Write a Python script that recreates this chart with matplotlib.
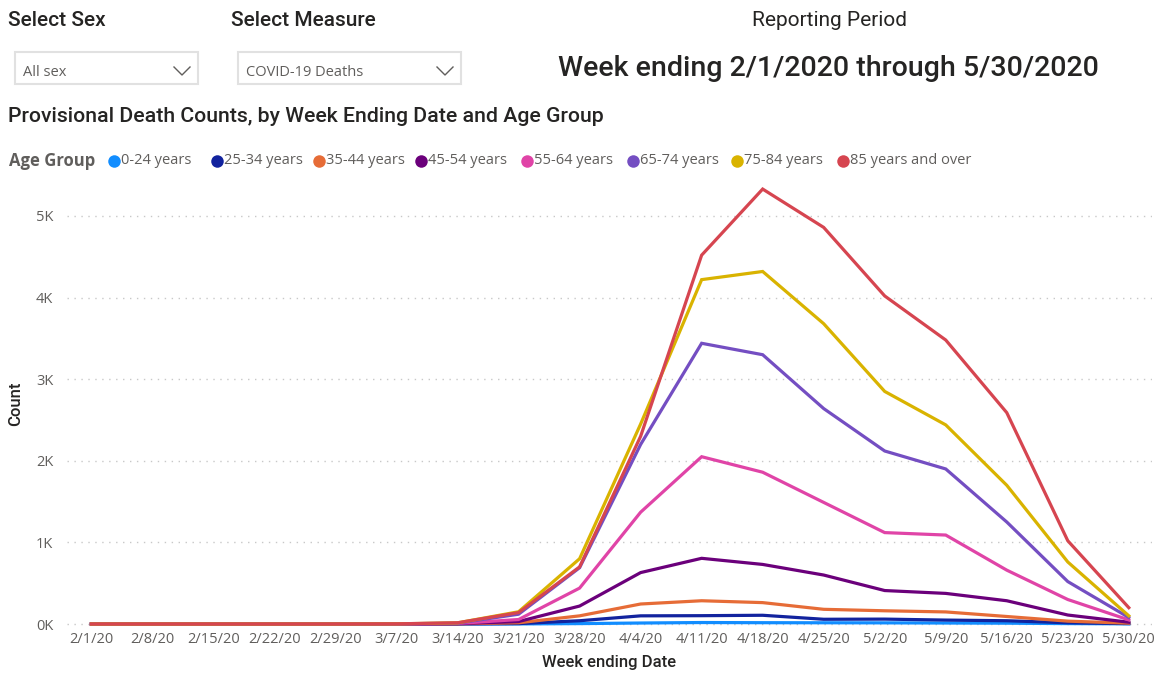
import matplotlib
matplotlib.use("Agg")
import matplotlib.pyplot as plt
from matplotlib.patches import Rectangle
from matplotlib.lines import Line2D
from matplotlib.ticker import FuncFormatter

plt.rcParams['font.family'] = ['Open Sans', 'DejaVu Sans']
DIN = ['Roboto', 'DejaVu Sans']

weeks = ["2/1/20", "2/8/20", "2/15/20", "2/22/20", "2/29/20", "3/7/20", "3/14/20",
         "3/21/20", "3/28/20", "4/4/20", "4/11/20", "4/18/20", "4/25/20", "5/2/20",
         "5/9/20", "5/16/20", "5/23/20", "5/30/20"]

age_groups = ["0-24 years", "25-34 years", "35-44 years", "45-54 years",
              "55-64 years", "65-74 years", "75-84 years", "85 years and over"]

deaths_0_24 = [0, 0, 0, 0, 0, 0, 0, 1, 5, 12, 18, 16, 15, 14, 12, 10, 5, 2]
deaths_25_34 = [0, 0, 0, 0, 0, 0, 1, 5, 40, 100, 102, 107, 58, 60, 48, 40, 15, 5]
deaths_35_44 = [0, 0, 0, 0, 0, 0, 2, 15, 100, 245, 285, 262, 180, 162, 148, 92, 35, 10]
deaths_45_54 = [0, 0, 0, 0, 0, 1, 4, 30, 220, 630, 805, 730, 600, 410, 375, 285, 110, 22]
deaths_55_64 = [0, 0, 0, 0, 0, 1, 7, 55, 440, 1370, 2050, 1860, 1490, 1120, 1090, 660, 300, 50]
deaths_65_74 = [0, 0, 0, 0, 0, 2, 10, 120, 690, 2200, 3440, 3300, 2640, 2120, 1900, 1250, 520, 80]
deaths_75_84 = [0, 0, 0, 0, 0, 2, 14, 150, 800, 2450, 4220, 4320, 3680, 2850, 2440, 1700, 760, 100]
deaths_85_plus = [0, 0, 0, 0, 0, 2, 15, 140, 700, 2300, 4520, 5330, 4860, 4020, 3480, 2590, 1020, 200]

series = [deaths_0_24, deaths_25_34, deaths_35_44, deaths_45_54,
          deaths_55_64, deaths_65_74, deaths_75_84, deaths_85_plus]
colors = ["#118DFF", "#12239E", "#E66C37", "#6B007B",
          "#E044A7", "#744EC2", "#D9B300", "#D64550"]

W, H = 1159, 673
fig = plt.figure(figsize=(W / 100, H / 100), dpi=100)

def fx(px):
    return px / W

def fy(py):
    return 1 - py / H

# Axes
ax_left, ax_right, ax_top, ax_bottom = 67, 1152, 180, 628
ax = fig.add_axes([fx(ax_left), fy(ax_bottom), fx(ax_right - ax_left), (ax_bottom - ax_top) / H])
x = list(range(len(weeks)))
for i, (vals, c) in enumerate(zip(series, colors)):
    ax.plot(x, vals, color=c, lw=2.3, solid_joinstyle='miter', zorder=3 + i)

ax.set_xlim(-0.4, len(weeks) - 1 + 0.38)
ax.set_ylim(-49, 5441)
ax.set_yticks([0, 1000, 2000, 3000, 4000, 5000])
ax.yaxis.set_major_formatter(FuncFormatter(lambda v, p: f"{int(v / 1000)}K"))
ax.set_xticks(x)
ax.set_xticklabels(weeks)
ax.grid(axis='y', color='#C8C8C8', linestyle=(0, (1, 4)), lw=1)
for s in ax.spines.values():
    s.set_visible(False)
ax.tick_params(axis='both', length=0, labelsize=10.5, colors='#605E5C')
ax.tick_params(axis='y', pad=10)
ax.tick_params(axis='x', pad=3)
ax.set_xlabel("Week ending Date", fontsize=12, color='#252423', labelpad=6,
              family=DIN, fontweight='medium')
ax.set_ylabel("Count", fontsize=12, color='#252423', labelpad=9,
              family=DIN, fontweight='medium')

# Header texts
fig.text(fx(8), fy(21), "Select Sex", fontsize=15, color='#252423', va='center', ha='left',
         family=DIN, fontweight='medium')
fig.text(fx(231), fy(21), "Select Measure", fontsize=15, color='#252423', va='center', ha='left',
         family=DIN, fontweight='medium')
fig.text(fx(829), fy(21), "Reporting Period", fontsize=15, color='#252423', va='center',
         ha='center', family=DIN)
fig.text(fx(828), fy(68), "Week ending 2/1/2020 through 5/30/2020", fontsize=20.5,
         color='#252423', va='center', ha='center', family=DIN, fontweight='medium')

# Dropdown boxes
for (x0, x1, label) in [(15, 198, "All sex"), (238, 461, "COVID-19 Deaths")]:
    fig.patches.append(Rectangle((fx(x0), fy(84)), fx(x1 - x0), (84 - 52) / H,
                                 transform=fig.transFigure, fill=True, facecolor='white',
                                 edgecolor='#E1E1E1', lw=1.5))
    fig.text(fx(x0 + 8), fy(72), label, fontsize=10.5, color='#605E5C', va='center', ha='left')
    cx = x1 - 16
    fig.lines.append(Line2D([fx(cx - 8), fx(cx), fx(cx + 8)], [fy(67), fy(75), fy(67)],
                            transform=fig.transFigure, color='#605E5C', lw=1))

# Chart title
fig.text(fx(8), fy(117), "Provisional Death Counts, by Week Ending Date and Age Group",
         fontsize=15.3, color='#252423', va='center', ha='left', family=DIN, fontweight='medium')

# Legend
fig.text(fx(9), fy(161), "Age Group", fontsize=12, color='#605E5C', fontweight='bold',
         va='center', ha='left')
legend_x = [114, 217, 319, 421, 527, 633, 737, 843]
for lx, c, lab in zip(legend_x, colors, age_groups):
    fig.lines.append(Line2D([fx(lx)], [fy(161)], transform=fig.transFigure, marker='o',
                            markersize=9, color=c, markeredgewidth=0))
    fig.text(fx(lx + 7), fy(161), lab, fontsize=10.5, color='#605E5C', va='center', ha='left')

fig.savefig("out.png", dpi=100, facecolor='white')
